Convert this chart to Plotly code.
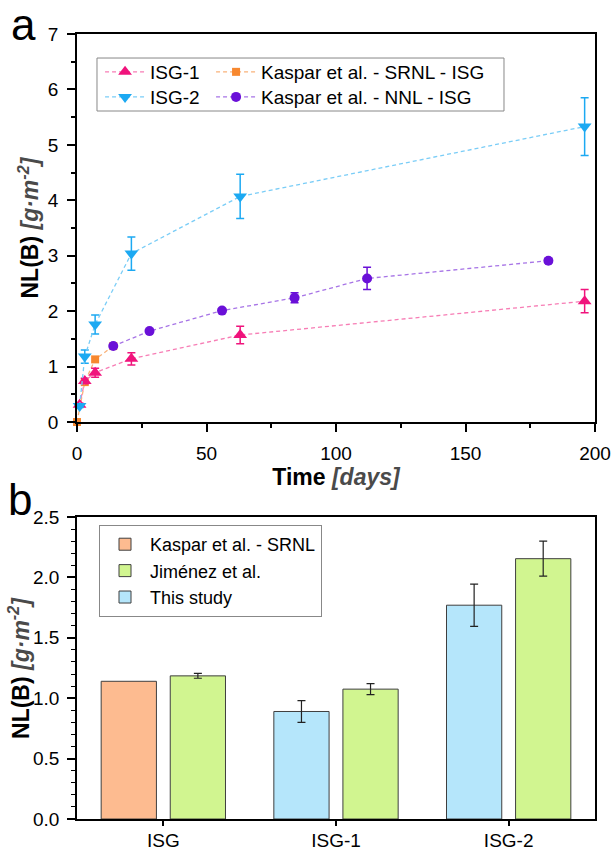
import plotly.graph_objects as go

# ---------------- data: panel a ----------------
isg1_t = [1, 3, 7, 21, 63, 196]
isg1_y = [0.31, 0.74, 0.89, 1.14, 1.57, 2.18]
isg1_e = [0.03, 0.05, 0.08, 0.11, 0.16, 0.21]

isg2_t = [1, 3, 7, 21, 63, 196]
isg2_y = [0.29, 1.18, 1.76, 3.04, 4.07, 5.33]
isg2_e = [0.03, 0.12, 0.17, 0.30, 0.40, 0.52]

srnl_t = [0, 3, 7, 14]
srnl_y = [0.0, 0.72, 1.13, 1.37]

nnl_t = [14, 28, 56, 84, 112, 182]
nnl_y = [1.37, 1.64, 2.01, 2.24, 2.59, 2.91]
nnl_e = [0.0, 0.0, 0.0, 0.09, 0.20, 0.04]

# ---------------- data: panel b ----------------
bar_cats = ["ISG", "ISG-1", "ISG-2"]
kaspar_bar = [1.14, None, None]
jimenez_bar = [1.185, 1.075, 2.155]
jimenez_err = [0.02, 0.045, 0.145]
study_bar = [None, 0.89, 1.77]
study_err = [0, 0.09, 0.175]

FONT = "Liberation Sans, Arial, sans-serif"
PINK, BLUE, ORANGE, PURPLE = "#F0137C", "#1CA9F2", "#F7882F", "#6A10D8"
PINK_L, BLUE_L, ORANGE_L, PURPLE_L = "#F77DB5", "#7ACDF7", "#F9B27A", "#A774E6"
DASH = "4px,3px"

fig = go.Figure()

def series(name, t, y, e, color, lcolor, symbol, size, legend, rank, lw=None):
    kw = {}
    if e is not None:
        kw["error_y"] = dict(type="data", array=e, color=color, thickness=1.5, width=4)
    if lw is not None:
        kw["legendwidth"] = lw
    fig.add_trace(go.Scatter(
        x=t, y=y, name=name, mode="lines+markers",
        line=dict(color=lcolor, width=1.3, dash=DASH),
        marker=dict(color=color, symbol=symbol, size=size),
        cliponaxis=False, xaxis="x", yaxis="y", legend=legend, legendrank=rank, **kw))

series("Kaspar et al. - SRNL - ISG", srnl_t, srnl_y, None, ORANGE, ORANGE_L, "square", 8, "legend", 2)
series("Kaspar et al. - NNL - ISG", nnl_t, nnl_y, nnl_e, PURPLE, PURPLE_L, "circle", 10, "legend2", 2)
series("ISG-1", isg1_t, isg1_y, isg1_e, PINK, PINK_L, "triangle-up", 12, "legend", 1, 56)
series("ISG-2", isg2_t, isg2_y, isg2_e, BLUE, BLUE_L, "triangle-down", 12, "legend2", 1, 56)

# bars
EDGE = "#3f3f3f"
fig.add_trace(go.Bar(x=bar_cats, y=kaspar_bar, name="Kaspar et al. - SRNL",
                     marker=dict(color="#FDBB90", line=dict(color=EDGE, width=1)),
                     offsetgroup="left", xaxis="x2", yaxis="y2", legend="legend3"))
fig.add_trace(go.Bar(x=bar_cats, y=jimenez_bar, name="Jiménez et al.",
                     error_y=dict(type="data", array=jimenez_err, color="#222", thickness=1.2, width=4),
                     marker=dict(color="#D1F590", line=dict(color=EDGE, width=1)),
                     offsetgroup="right", xaxis="x2", yaxis="y2", legend="legend3"))
fig.add_trace(go.Bar(x=bar_cats, y=study_bar, name="This study",
                     error_y=dict(type="data", array=study_err, color="#222", thickness=1.2, width=4),
                     marker=dict(color="#B5E6FB", line=dict(color=EDGE, width=1)),
                     offsetgroup="left", xaxis="x2", yaxis="y2", legend="legend3"))

ytitle = "<b>NL(B) </b><b><i><span style='color:#4a4a4a'>[g·m<sup>-2</sup>]</span></i></b>"
tickf = dict(family=FONT, size=19, color="black")
titf = dict(family=FONT, size=23, color="black")
legf = dict(family=FONT, size=19, color="black")

TOP = [0.5057, 1.0]
BOT = [0.0, 0.3847]
LW = 1.5
MAJ, MIN = 8, 4

def ticks(kind, ln=MAJ):
    return dict(ticks=kind, ticklen=ln, tickwidth=LW, tickcolor="black", automargin=False)

fig.update_layout(
    template="none",
    width=614, height=852,
    margin=dict(l=77, r=19, t=34, b=33, autoexpand=False),
    paper_bgcolor="white", plot_bgcolor="white",
    font=dict(family=FONT, color="black"),
    barmode="group", bargap=0.2, bargroupgap=0.2,
    xaxis=dict(domain=[0, 1], anchor="y", range=[0, 200], dtick=50, tick0=0, **ticks("outside"),
               minor=dict(dtick=25, ticks="outside", ticklen=MIN, tickwidth=LW, tickcolor="black"),
               showline=True, linecolor="black", linewidth=LW, mirror=True,
               showgrid=False, zeroline=False, tickfont=tickf, ticklabelstandoff=5,
               title=dict(text="<b>Time </b><b><i><span style='color:#4a4a4a'>[days]</span></i></b>",
                          font=titf, standoff=1)),
    yaxis=dict(domain=TOP, anchor="x", range=[0, 7], dtick=1, **ticks("outside"),
               minor=dict(dtick=0.5, ticks="outside", ticklen=MIN, tickwidth=LW, tickcolor="black"),
               showline=True, linecolor="black", linewidth=LW, mirror=True,
               showgrid=False, zeroline=False, tickfont=tickf, ticklabelstandoff=5),
    xaxis3=dict(overlaying="x", anchor="y", side="top", range=[0, 200], dtick=50, tick0=0,
                **ticks("inside"),
                minor=dict(dtick=25, ticks="inside", ticklen=MIN, tickwidth=LW, tickcolor="black"),
                showticklabels=False, showgrid=False, zeroline=False, showline=False),
    yaxis3=dict(overlaying="y", anchor="x", side="right", range=[0, 7], dtick=1,
                **ticks("inside"),
                minor=dict(dtick=0.5, ticks="inside", ticklen=MIN, tickwidth=LW, tickcolor="black"),
                showticklabels=False, showgrid=False, zeroline=False, showline=False),
    xaxis2=dict(domain=[0, 1], anchor="y2", range=[-0.5, 2.5], **ticks("outside", 5),
                showline=True, linecolor="black", linewidth=LW, mirror=True,
                showgrid=False, zeroline=False, tickfont=tickf, ticklabelstandoff=-2),
    yaxis2=dict(domain=BOT, anchor="x2", range=[0, 2.5], dtick=0.5, tickformat=".1f",
                **ticks("outside"),
                minor=dict(dtick=0.1, ticks="outside", ticklen=MIN, tickwidth=1.2, tickcolor="black"),
                showline=True, linecolor="black", linewidth=LW, mirror=True,
                showgrid=False, zeroline=False, tickfont=tickf, ticklabelstandoff=4),
    legend=dict(orientation="h", x=0.0445, y=0.9516, xanchor="left", yanchor="middle",
                bgcolor="rgba(0,0,0,0)", borderwidth=0, font=legf, itemwidth=40),
    legend2=dict(orientation="h", x=0.0445, y=0.9197, xanchor="left", yanchor="middle",
                 bgcolor="rgba(0,0,0,0)", borderwidth=0, font=legf, itemwidth=40),
    legend3=dict(x=0.0425, y=0.3745, xanchor="left", yanchor="top", bgcolor="white",
                 bordercolor="#888", borderwidth=1, font=dict(family=FONT, size=18, color="black"),
                 traceorder="normal", itemwidth=40),
    shapes=[dict(type="rect", xref="paper", yref="paper",
                 x0=0.0386, x1=0.8243, y0=0.9019, y1=0.9694,
                 line=dict(color="#888", width=1), fillcolor="rgba(0,0,0,0)", layer="below")],
    annotations=[
        dict(text="a", xref="paper", yref="paper", x=-0.1026, y=1.0115, xanchor="center",
             yanchor="middle", showarrow=False, font=dict(family=FONT, size=44, color="black")),
        dict(text="b", xref="paper", yref="paper", x=-0.1095, y=0.407, xanchor="center",
             yanchor="middle", showarrow=False, font=dict(family=FONT, size=44, color="black")),
        dict(text=ytitle, xref="paper", yref="paper", x=-0.0936, y=0.7529, xanchor="center",
             yanchor="middle", textangle=-90, showarrow=False, font=titf),
        dict(text=ytitle, xref="paper", yref="paper", x=-0.112, y=0.1924, xanchor="center",
             yanchor="middle", textangle=-90, showarrow=False, font=titf),
    ],
    showlegend=True,
)

fig.write_html("out.html", config={"displayModeBar": False},
               post_script="document.body.style.margin='0px';")
